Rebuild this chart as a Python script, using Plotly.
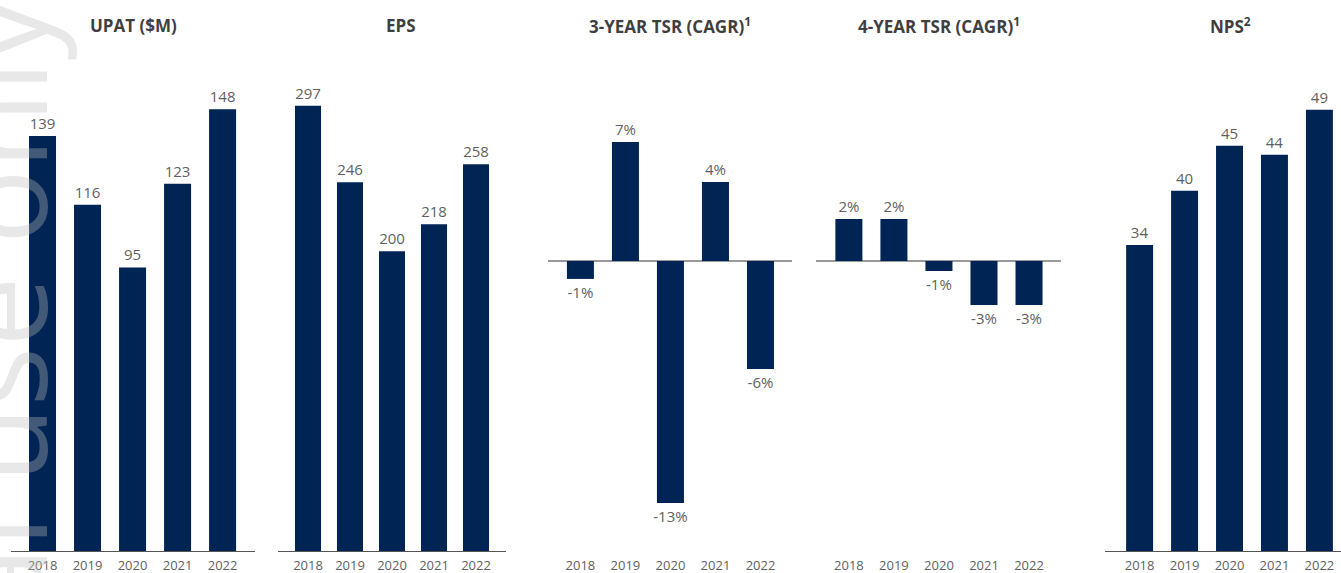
import plotly.graph_objects as go

W, H = 1341, 573

years = ["2018", "2019", "2020", "2021", "2022"]
upat = [139, 116, 95, 123, 148]
eps = [297, 246, 200, 218, 258]
tsr3 = [-0.99, 6.57, -13.37, 4.36, -5.97]
tsr4 = [2.44, 2.44, -0.58, -2.56, -2.56]
nps = [34, 40, 45, 44, 49]

titles = ["UPAT ($M)", "EPS", "3-YEAR TSR (CAGR)<sup>1</sup>",
          "4-YEAR TSR (CAGR)<sup>1</sup>", "NPS<sup>2</sup>"]

NAVY = "#002554"
GREY = "#5f5f5f"
FONT = "Open Sans"

def px_x(p):
    return p / W

def px_y(p):
    return 1 - p / H

panels = [
    dict(vals=upat, tmpl="%{y}", left=11, right=255, xr=[-0.7, 4.72], yr=[0, 184.6], width=0.6, mid=False),
    dict(vals=eps, tmpl="%{y}", left=278, right=506, xr=[-0.714, 4.714], yr=[0, 367.6], width=0.62, mid=False),
    dict(vals=tsr3, tmpl="%{y:.0f}%", left=548, right=792, xr=[-0.72, 4.7], yr=[-290 / 18.1, 261 / 18.1], width=0.6, mid=True),
    dict(vals=tsr4, tmpl="%{y:.0f}%", left=816, right=1061, xr=[-0.73, 4.71], yr=[-290 / 17.2, 261 / 17.2], width=0.6, mid=True),
    dict(vals=nps, tmpl="%{y}", left=1105, right=1341, xr=[-0.77, 4.48], yr=[0, 61.2], width=0.6, mid=False),
]
title_x = [133, 401, 670, 939, 1230]

fig = go.Figure()
layout = dict(
    template="none",
    width=W, height=H,
    margin=dict(l=0, r=0, t=0, b=0, pad=0, autoexpand=False),
    paper_bgcolor="white", plot_bgcolor="white",
    showlegend=False,
    font=dict(family=FONT, color=GREY),
    annotations=[],
)

ydom = [px_y(551), 1.0]
for i, p in enumerate(panels, start=1):
    xa = "x" if i == 1 else f"x{i}"
    ya = "y" if i == 1 else f"y{i}"
    fig.add_trace(go.Bar(
        x=years, y=p["vals"], xaxis=xa, yaxis=ya,
        width=p["width"], marker=dict(color=NAVY, line=dict(width=0)),
        texttemplate=p["tmpl"], textposition="outside", constraintext="none",
        cliponaxis=False,
        textfont=dict(family=FONT, size=15, color=GREY),
        hoverinfo="skip",
    ))
    xkey = "xaxis" if i == 1 else f"xaxis{i}"
    ykey = "yaxis" if i == 1 else f"yaxis{i}"
    layout[xkey] = dict(
        domain=[px_x(p["left"]), min(px_x(p["right"]), 1.0)],
        anchor=ya, type="category", range=p["xr"], automargin=False,
        showgrid=False, zeroline=False,
        showline=not p["mid"], linecolor="#555555", linewidth=1.2,
        ticks="outside", ticklen=2, tickcolor="rgba(0,0,0,0)",
        tickfont=dict(family=FONT, size=13, color=GREY),
        fixedrange=True,
    )
    layout[ykey] = dict(
        domain=ydom, anchor=xa, range=p["yr"], automargin=False,
        showgrid=False, showticklabels=False, showline=False, ticks="",
        zeroline=p["mid"], zerolinecolor="#9a9a9a", zerolinewidth=1.6,
        fixedrange=True,
    )
    layout["annotations"].append(dict(
        text=titles[i - 1], xref="paper", yref="paper",
        x=px_x(title_x[i - 1]), y=px_y(25), xanchor="center", yanchor="middle",
        showarrow=False,
        font=dict(family=FONT, size=17, color="#3f3f3f", weight="bold"),
    ))

# faint watermark on the left edge
layout["annotations"].append(dict(
    text="For personal use only", textangle=-90,
    xref="paper", yref="paper", x=px_x(86), y=px_y(-4),
    xanchor="right", yanchor="top", showarrow=False,
    font=dict(family=FONT, size=125, color="rgba(190,190,190,0.35)"),
))

fig.update_layout(**layout)
fig.write_html(
    "out.html",
    config={"displayModeBar": False},
    post_script="document.body.style.margin='0';document.body.style.overflow='hidden';",
)
